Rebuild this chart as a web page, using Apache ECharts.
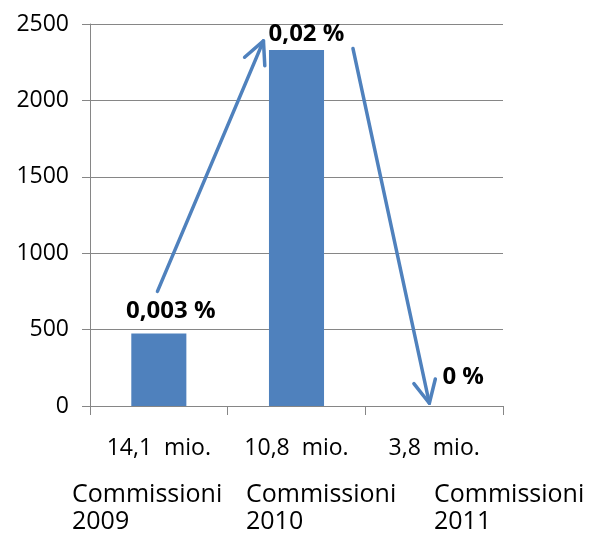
<!DOCTYPE html>
<html>
<head>
<meta charset="utf-8">
<script src="https://cdn.jsdelivr.net/npm/echarts@6/dist/echarts.min.js"></script>
<style>
html,body{margin:0;padding:0;background:#fff;}
#chart{width:590px;height:535px;}
</style>
</head>
<body>
<div id="chart"></div>
<script>
// ---- data ----
var categories = ['14,1  mio.', '10,8  mio.', '3,8  mio.'];
var values = [475, 2330, 0];
var pctLabels = ['0,003 %', '0,02 %', '0 %'];
var pctLabelOffsets = [[12, -10], [10, -4], [29, -17]];
var yTicks = { min: 0, max: 2500, interval: 500 };
// arrows in data space: [xIndex1, value1, xIndex2, value2]
var arrows = [
  [-0.01, 750, 0.76, 2390],
  [1.41, 2340, 1.965, 18]
];
var bottomTexts = ['Commissioni\n2009', 'Commissioni\n2010', 'Commissioni\n2011'];
var bottomTextX = [72, 246, 434];

var FONT = '"Open Sans", "Noto Sans", sans-serif';
var BLUE = '#4F81BD';
var GRID = '#868686';

var chart = echarts.init(document.getElementById('chart'), null, { renderer: 'canvas' });

var option = {
  animation: false,
  backgroundColor: '#fff',
  grid: { left: 90, right: 87, top: 24, bottom: 129, containLabel: false },
  xAxis: [{
    type: 'category',
    data: categories,
    axisLine: { show: true, onZero: false, lineStyle: { color: GRID, width: 1 } },
    axisTick: { show: true, length: 9, lineStyle: { color: GRID } },
    splitLine: { show: false },
    axisLabel: { color: '#000', fontFamily: FONT, fontSize: 23, lineHeight: 24, margin: 30, interval: 0 }
  }, {
    type: 'value', min: -0.5, max: 2.5, show: false,
    splitLine: { show: false }, axisLine: { show: false }, axisTick: { show: false }, axisLabel: { show: false }
  }],
  yAxis: {
    type: 'value',
    min: yTicks.min, max: yTicks.max, interval: yTicks.interval,
    axisLine: { show: true, onZero: false, lineStyle: { color: GRID, width: 1 } },
    axisTick: { show: true, length: 8, lineStyle: { color: GRID } },
    splitLine: { show: true, lineStyle: { color: GRID, width: 1 } },
    axisLabel: {
      color: '#000', fontFamily: FONT, fontSize: 23, margin: 21,
      formatter: function (v) { return String(v); }
    }
  },
  series: [{
    type: 'bar',
    xAxisIndex: 0,
    barWidth: '40%',
    itemStyle: { color: BLUE },
    data: values.map(function (v, i) {
      return {
        value: v,
        label: {
          show: true,
          position: 'top',
          distance: 0,
          offset: pctLabelOffsets[i],
          formatter: pctLabels[i],
          color: '#000',
          fontFamily: FONT,
          fontWeight: 'bold',
          fontSize: 24,
          lineHeight: 24
        }
      };
    })
  }, {
    type: 'custom',
    xAxisIndex: 1,
    yAxisIndex: 0,
    clip: false,
    z: 5,
    encode: { x: [0, 2], y: [1, 3] },
    data: arrows,
    renderItem: function (params, api) {
      var p1 = api.coord([api.value(0), api.value(1)]);
      var p2 = api.coord([api.value(2), api.value(3)]);
      var dx = p2[0] - p1[0], dy = p2[1] - p1[1];
      var len = Math.sqrt(dx * dx + dy * dy);
      var ux = dx / len, uy = dy / len;
      var L = 25, a = 26 * Math.PI / 180;
      function arm(sign) {
        var c = Math.cos(sign * a), s = Math.sin(sign * a);
        var rx = ux * c - uy * s, ry = ux * s + uy * c;
        return [p2[0] - L * rx, p2[1] - L * ry];
      }
      var style = { stroke: BLUE, lineWidth: 3.5, fill: null, lineCap: 'round', lineJoin: 'round' };
      return {
        type: 'group',
        children: [
          { type: 'line', shape: { x1: p1[0], y1: p1[1], x2: p2[0], y2: p2[1] }, style: style },
          { type: 'polyline', shape: { points: [arm(1), p2, arm(-1)] }, style: style }
        ]
      };
    }
  }],
  graphic: bottomTexts.map(function (t, i) {
    return {
      type: 'text',
      x: bottomTextX[i],
      y: 508,
      style: {
        text: t,
        fill: '#000',
        font: '25px ' + FONT,
        lineHeight: 27,
        align: 'left',
        verticalAlign: 'middle'
      }
    };
  })
};

chart.setOption(option);
</script>
</body>
</html>
